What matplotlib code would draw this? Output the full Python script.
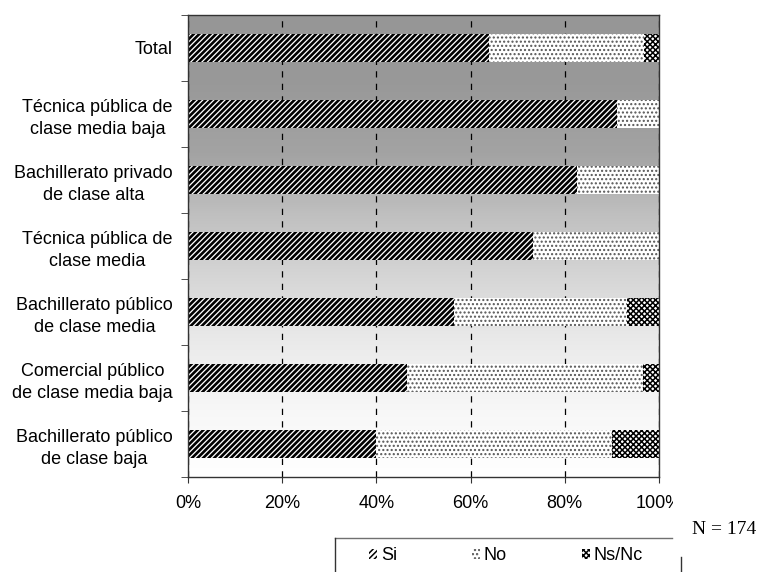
import matplotlib
matplotlib.use("Agg")
import matplotlib.pyplot as plt
import numpy as np
from matplotlib.colors import LinearSegmentedColormap
from matplotlib.patches import Patch
from matplotlib.lines import Line2D
from matplotlib.transforms import Bbox, TransformedBbox

plt.rcParams['font.family'] = ['Liberation Sans', 'DejaVu Sans']
plt.rcParams['font.size'] = 13

# schools, top to bottom
categories = [
    'Total',
    'Técnica pública de\nclase media baja',
    'Bachillerato privado\nde clase alta',
    'Técnica pública de\nclase media',
    'Bachillerato público\nde clase media',
    'Comercial público\nde clase media baja',
    'Bachillerato público\nde clase baja',
]
si = [63.9, 91.1, 82.6, 73.2, 56.5, 46.4, 39.9]
no = [32.9, 8.9, 17.4, 26.8, 36.6, 50.1, 50.2]
nsnc = [3.2, 0.0, 0.0, 0.0, 6.9, 3.5, 9.9]
series_names = ['Si', 'No', 'Ns/Nc']
x_ticks = [0, 20, 40, 60, 80, 100]
x_labels = ['0%', '20%', '40%', '60%', '80%', '100%']
n_total = 174

fig = plt.figure(figsize=(7.63, 5.72), dpi=100)
ax = fig.add_axes([188 / 763, 95 / 572, 471 / 763, 462 / 572])

y = np.arange(len(categories))

# grey-to-white background of the plot area
bg = LinearSegmentedColormap.from_list('bg', [
    (0.0, (0.59, 0.59, 0.59)),
    (0.15, (0.60, 0.60, 0.60)),
    (0.30, (0.64, 0.64, 0.64)),
    (0.43, (0.75, 0.75, 0.75)),
    (0.57, (0.84, 0.84, 0.84)),
    (0.71, (0.92, 0.92, 0.92)),
    (0.86, (0.97, 0.97, 0.97)),
    (1.0, (1.0, 1.0, 1.0)),
])
grad = np.linspace(0, 1, 256).reshape(-1, 1)
ax.imshow(grad, cmap=bg, aspect='auto', extent=[0, 100, len(categories) - 0.5, -0.5],
          zorder=0, interpolation='bilinear')

styles = [
    dict(hatch='//////', edgecolor='black', hlw=1.9),
    dict(hatch='....', edgecolor='#555555', hlw=1.0),
    dict(hatch='xxxxxx', edgecolor='black', hlw=1.1),
]

left = np.zeros(len(categories))
handles = []
for vals, name, st in zip([si, no, nsnc], series_names, styles):
    plt.rcParams['hatch.linewidth'] = st['hlw']
    bars = ax.barh(y, vals, left=left, height=0.42, color='white',
                   edgecolor=st['edgecolor'], hatch=st['hatch'], linewidth=0, zorder=2)
    for b in bars:
        if hasattr(b, 'set_hatch_linewidth'):
            b.set_hatch_linewidth(st['hlw'])
    left += np.array(vals)
    handles.append(Patch(facecolor='white', edgecolor=st['edgecolor'],
                         hatch=st['hatch'], linewidth=0, label=name))

ax.set_xlim(0, 100)
ax.set_ylim(len(categories) - 0.5, -0.5)

ax.set_xticks(x_ticks)
ax.set_xticklabels(x_labels)
ax.set_yticks(y)
ax.set_yticklabels(categories, multialignment='center', linespacing=1.38)
ax.set_yticks(np.arange(len(categories) + 1) - 0.5, minor=True)
ax.tick_params(axis='y', which='major', length=0, pad=11)
ax.tick_params(axis='y', which='minor', length=5, direction='out', color='#333333')
ax.tick_params(axis='x', length=4, direction='out', pad=9, color='#333333')

ax.xaxis.grid(True, color='black', linestyle=(0, (5, 5)), linewidth=0.9, zorder=1)
ax.set_axisbelow(True)
for sp in ax.spines.values():
    sp.set_color('#333333')
    sp.set_linewidth(1.0)
    sp.set_zorder(3)

# last tick label runs past the chart edge
clip = TransformedBbox(Bbox([[0, 0], [673 / 763, 1]]), fig.transFigure)
for tick in ax.xaxis.get_major_ticks():
    tick.label1.set_clip_box(clip)
    tick.label1.set_clip_on(True)

fig.text(692 / 763, 1 - 530 / 572, f'N = {n_total}', family='Liberation Serif',
         fontsize=14, va='center', ha='left')

leg = fig.legend(handles=handles, loc='upper left', bbox_to_anchor=(362 / 763, 1 - 540 / 572),
                 ncol=3, frameon=False, handlelength=0.45, handleheight=0.45,
                 handletextpad=0.2, columnspacing=4.15, borderpad=0.4, borderaxespad=0,
                 fontsize=13)

fig.add_artist(Line2D([335 / 763, 672 / 763], [1 - 538 / 572, 1 - 538 / 572],
                      transform=fig.transFigure, color='#707070', linewidth=1))
fig.add_artist(Line2D([335 / 763, 335 / 763], [1 - 538 / 572, 0],
                      transform=fig.transFigure, color='#333333', linewidth=1))
fig.add_artist(Line2D([681 / 763, 681 / 763], [1 - 557 / 572, 0],
                      transform=fig.transFigure, color='#333333', linewidth=1))

fig.savefig('out.png', dpi=100)
